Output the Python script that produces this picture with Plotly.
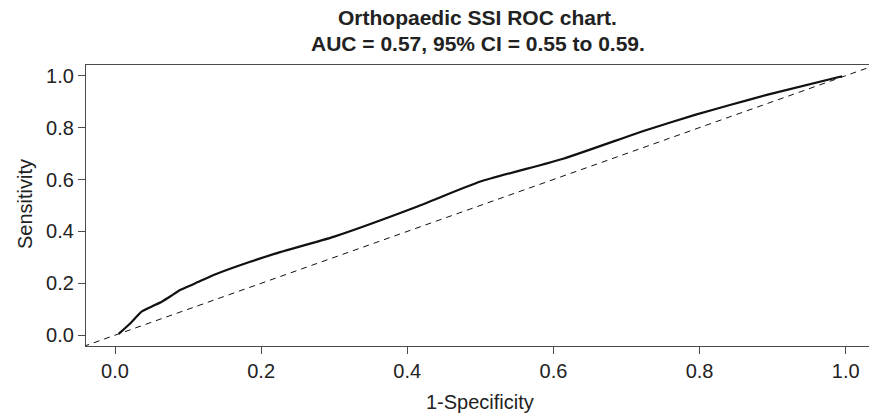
import plotly.graph_objects as go

# ROC curve
fpr = [0.005, 0.020, 0.036, 0.050, 0.064, 0.076, 0.089, 0.110, 0.135, 0.185, 0.226,
       0.300, 0.413, 0.500, 0.6135, 0.7275, 0.796, 0.8415, 0.892, 0.995]
tpr = [0.005, 0.043, 0.090, 0.110, 0.129, 0.150, 0.174, 0.200, 0.232, 0.283, 0.320,
       0.380, 0.495, 0.592, 0.680, 0.791, 0.851, 0.887, 0.926, 0.998]

# reference diagonal (chance line)
diag = [-0.1, 1.1]

tick_vals = [0.0, 0.2, 0.4, 0.6, 0.8, 1.0]
tick_text = ["0.0", "0.2", "0.4", "0.6", "0.8", "1.0"]

title_lines = ["Orthopaedic SSI ROC chart.", "AUC = 0.57, 95% CI = 0.55 to 0.59."]
x_title = "1-Specificity"
y_title = "Sensitivity"

FONT = "Liberation Sans, Arial, Helvetica, sans-serif"
AXC = "#4a4a4a"
TXT = "#222222"

W, H = 869, 414
ML, MR, MT, MB = 86, 0, 65, 68
PW, PH = W - ML - MR, H - MT - MB


def px_to_paper_x(px):
    return (px - ML) / PW


def px_to_paper_y(py):
    return (H - MB - py) / PH


fig = go.Figure()
fig.add_trace(go.Scatter(x=diag, y=diag, mode="lines",
                         line=dict(color="#111111", width=1, dash="6px,5px"),
                         hoverinfo="skip", showlegend=False))
fig.add_trace(go.Scatter(x=fpr, y=tpr, mode="lines", line_shape="spline",
                         line=dict(color="#111111", width=2.2, smoothing=0.5),
                         showlegend=False))

annotations = []
for text, py in zip(title_lines, [18, 43]):
    annotations.append(dict(text="<b>" + text + "</b>", xref="paper", yref="paper",
                            x=0.5, y=px_to_paper_y(py), xanchor="center", yanchor="middle",
                            showarrow=False, font=dict(family=FONT, size=21, color=TXT)))
annotations.append(dict(text=x_title, xref="paper", yref="paper",
                        x=px_to_paper_x(480), y=px_to_paper_y(402),
                        xanchor="center", yanchor="middle", showarrow=False,
                        font=dict(family=FONT, size=20, color=TXT)))
annotations.append(dict(text=y_title, xref="paper", yref="paper", textangle=-90,
                        x=px_to_paper_x(25), y=px_to_paper_y(204),
                        xanchor="center", yanchor="middle", showarrow=False,
                        font=dict(family=FONT, size=20, color=TXT)))

fig.update_layout(
    width=W, height=H,
    margin=dict(l=ML, r=MR, t=MT, b=MB, autoexpand=False),
    paper_bgcolor="white", plot_bgcolor="white",
    font=dict(family=FONT, size=20, color=TXT),
    annotations=annotations,
    xaxis=dict(range=[-0.0397, 1.0319], tickvals=tick_vals, ticktext=tick_text,
               ticks="outside", ticklen=7, tickwidth=1, tickcolor=AXC,
               showline=True, linecolor=AXC, linewidth=1.2, mirror=True,
               showgrid=False, zeroline=False, automargin=False),
    yaxis=dict(range=[-0.0416, 1.0412], tickvals=tick_vals, ticktext=tick_text,
               ticks="outside", ticklen=7, tickwidth=1, tickcolor=AXC,
               showline=True, linecolor=AXC, linewidth=1.2,
               showgrid=False, zeroline=False, automargin=False),
)

fig.write_html("out.html", config={"displayModeBar": False},
               post_script="document.body.style.margin='0';document.body.style.overflow='hidden';")
